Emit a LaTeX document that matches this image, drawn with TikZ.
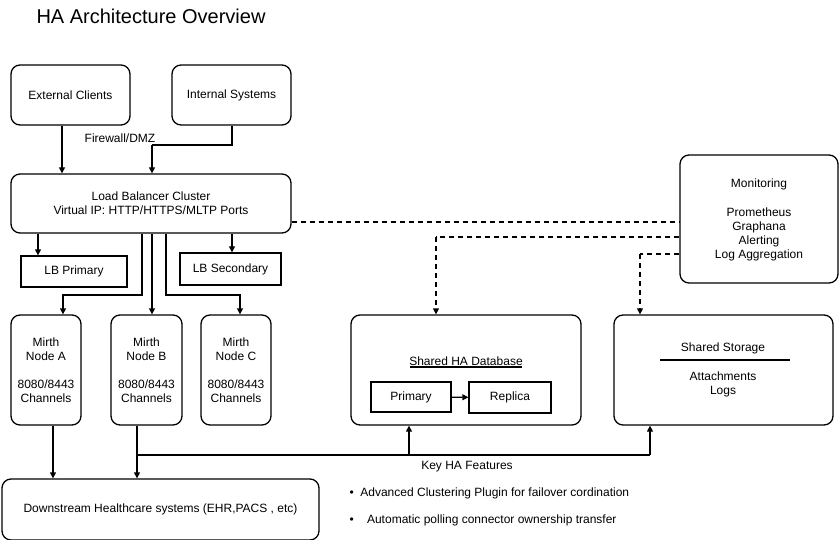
\documentclass[tikz,border=0pt]{standalone}
\usepackage{fontspec}
\setmainfont{Liberation Sans}
\usetikzlibrary{arrows.meta}
\begin{document}
\begin{tikzpicture}[x=1pt,y=-1pt,
  box/.style={draw,line width=1.3pt,rounded corners=9pt,align=center,font=\fontsize{12}{14}\selectfont,inner sep=0pt},
  sq/.style={draw,line width=1.3pt,align=center,font=\fontsize{12}{14}\selectfont,inner sep=0pt},
  arr/.style={line width=1.3pt,-{Triangle[length=6pt,width=6pt]}},
  ln/.style={line width=1.3pt},
  dsh/.style={line width=1.3pt,dash pattern=on 5pt off 4pt},
  txt/.style={font=\fontsize{12}{14}\selectfont,align=center}]
\useasboundingbox (0,0) rectangle (840,540);
\node[anchor=west,font=\fontsize{20}{23}\selectfont] (title) at (33,16) {HA Architecture Overview};
\node[box,minimum width=119pt,minimum height=60pt] (ext) at (70.5,95) {External Clients};
\node[box,minimum width=119pt,minimum height=60pt] (int) at (231.5,95) {Internal Systems};
\node[txt] (fw) at (120,138) {Firewall/DMZ};
\node[box,minimum width=280pt,minimum height=59pt] (lb) at (151,203.5) {Load Balancer Cluster\\Virtual IP: HTTP/HTTPS/MLTP Ports};
\node[sq,minimum width=106pt,minimum height=31pt] (lbp) at (74,271.5) {LB Primary};
\node[sq,minimum width=101pt,minimum height=32pt] (lbs) at (230.5,269) {LB Secondary};
\node[box,minimum width=70pt,minimum height=110pt] (ma) at (46,370) {Mirth\\Node A\\[14pt]8080/8443\\Channels};
\node[box,minimum width=71pt,minimum height=110pt] (mb) at (146.5,370) {Mirth\\Node B\\[14pt]8080/8443\\Channels};
\node[box,minimum width=70pt,minimum height=110pt] (mc) at (236,370) {Mirth\\Node C\\[14pt]8080/8443\\Channels};
\node[box,minimum width=317pt,minimum height=61pt] (ds) at (160.5,509.5) {Downstream Healthcare systems (EHR,PACS , etc)};
\node[box,minimum width=230pt,minimum height=110pt] (db) at (466,370) {};
\node[txt] (dbt) at (466,361) {Shared HA Database};
\draw[ln] (410,367) -- (522,367);
\node[sq,minimum width=80pt,minimum height=30pt] (pri) at (411,397) {Primary};
\node[sq,minimum width=82pt,minimum height=31pt] (rep) at (510,397.5) {Replica};
\node[box,minimum width=219pt,minimum height=110pt] (st) at (723.5,370) {};
\node[txt] (stt) at (723,348) {Shared Storage};
\draw[ln] (660,360) -- (790,360);
\node[txt] (stl) at (723,384) {Attachments\\Logs};
\node[box,minimum width=158pt,minimum height=128pt] (mon) at (759,219) {};
\node[txt] (mont) at (759,184) {Monitoring};
\node[txt] (monl) at (759,234.5) {Prometheus\\Graphana\\Alerting\\Log Aggregation};
\node[txt] (kh) at (467,467) {Key HA Features};
\node[txt,anchor=west] (b1) at (346,493) {\textbullet\ \ Advanced Clustering Plugin for failover cordination};
\node[txt,anchor=west] (b2) at (346,520) {\textbullet\ \ \ \ Automatic polling connector ownership transfer};
% arrows
\draw[arr] (ext.south -| 62,0) -- (lb.north -| 62,0);
\draw[ln] (int.south -| 232,0) -- (232,145) -- (152,145);
\draw[arr] (152,145) -- (lb.north -| 152,0);
\draw[arr] (lb.south -| 38,0) -- (lbp.north -| 38,0);
\draw[arr] (lb.south -| 232,0) -- (lbs.north -| 232,0);
\draw[arr] (lb.south -| 142,0) -- (142,295) -- (63,295) -- (ma.north -| 63,0);
\draw[arr] (lb.south -| 152,0) -- (mb.north -| 152,0);
\draw[arr] (lb.south -| 166,0) -- (166,295) -- (240,295) -- (mc.north -| 240,0);
\draw[arr] (ma.south -| 53,0) -- (ds.north -| 53,0);
\draw[arr] (mb.south -| 137,0) -- (ds.north -| 137,0);
\draw[ln] (137,455) -- (650,455);
\draw[arr] (409,455) -- (db.south -| 409,0);
\draw[arr] (650,455) -- (st.south -| 650,0);
\draw[arr] (pri) -- (rep);
\draw[dsh] (lb.east |- 0,222) -- (mon.west |- 0,222);
\draw[dsh] (mon.west |- 0,237) -- (436,237);
\draw[dsh,-{Triangle[length=6pt,width=6pt]}] (436,237) -- (db.north -| 436,0);
\draw[dsh] (mon.west |- 0,254) -- (640,254);
\draw[dsh,-{Triangle[length=6pt,width=6pt]}] (640,254) -- (st.north -| 640,0);
\end{tikzpicture}
\end{document}
